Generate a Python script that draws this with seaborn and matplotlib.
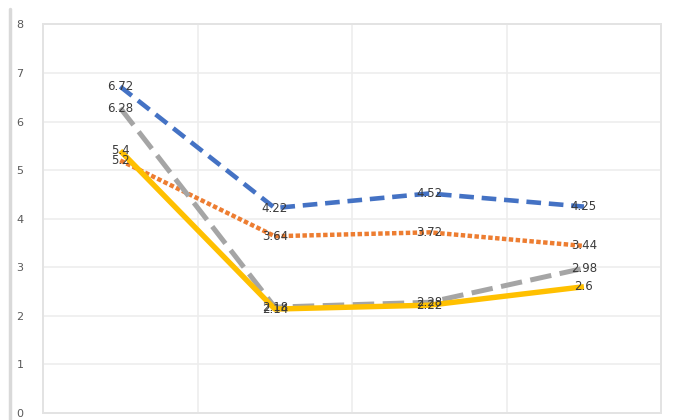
import matplotlib
matplotlib.use("Agg")
import matplotlib.pyplot as plt
import seaborn as sns
import pandas as pd
from matplotlib.lines import Line2D

categories = ["1", "2", "3", "4"]
series_a = [6.72, 4.22, 4.52, 4.25]
series_b = [5.2, 3.64, 3.72, 3.44]
series_c = [6.28, 2.18, 2.28, 2.98]
series_d = [5.4, 2.14, 2.22, 2.6]
series_names = ["A", "B", "C", "D"]
y_ticks = [0, 1, 2, 3, 4, 5, 6, 7, 8]

sns.set_theme(style="white")
plt.rcParams['font.family'] = ['DejaVu Sans']

fig = plt.figure(figsize=(6.76, 4.2), dpi=100)
ax = fig.add_axes([0.0636, 0.0167, 0.9145, 0.925])

colors = ["#4472C4", "#ED7D31", "#A5A5A5", "#FFC000"]
styles = [
    dict(lw=3.3, dashes=(3.2, 1.7)),
    dict(lw=3.2, dashes=(1.0, 0.55)),
    dict(lw=3.6, dashes=(4.3, 1.7)),
    dict(lw=3.9, dashes=None),
]
all_series = [series_a, series_b, series_c, series_d]
x_idx = list(range(len(categories)))

for name, vals, col, st in zip(series_names, all_series, colors, styles):
    df = pd.DataFrame({"x": x_idx, "y": vals})
    sns.lineplot(data=df, x="x", y="y", ax=ax, color=col, linewidth=st["lw"],
                 legend=False, zorder=3)
    line = ax.lines[-1]
    if st["dashes"] is not None:
        line.set_dashes(st["dashes"])
    line.set_dash_capstyle("butt")
    line.set_solid_capstyle("butt")

for vals in all_series:
    for xi, v in zip(x_idx, vals):
        ax.text(xi, v, f"{v:g}", ha="center", va="center", fontsize=8.5,
                color="#3A3A3A", zorder=5)

ax.set_xlim(-0.5, len(categories) - 0.5)
ax.set_ylim(0, 8)
ax.set_yticks(y_ticks)
ax.set_yticklabels([str(t) for t in y_ticks], fontsize=8, color="#595959")
ax.set_xticks([i + 0.5 for i in x_idx[:-1]])
ax.set_xticklabels([])
ax.tick_params(axis="both", length=0, pad=14)
ax.grid(True, axis="both", color="#EDEDED", linewidth=1.2, zorder=0)
ax.set_xlabel("")
ax.set_ylabel("")
for s in ax.spines.values():
    s.set_color("#E3E3E3")
    s.set_linewidth(1.4)

fig.add_artist(Line2D([0.0145, 0.0145], [0.0, 0.978], transform=fig.transFigure,
                      color="#D9D9D9", linewidth=2.5))

fig.savefig("out.png", dpi=100, facecolor="white")
